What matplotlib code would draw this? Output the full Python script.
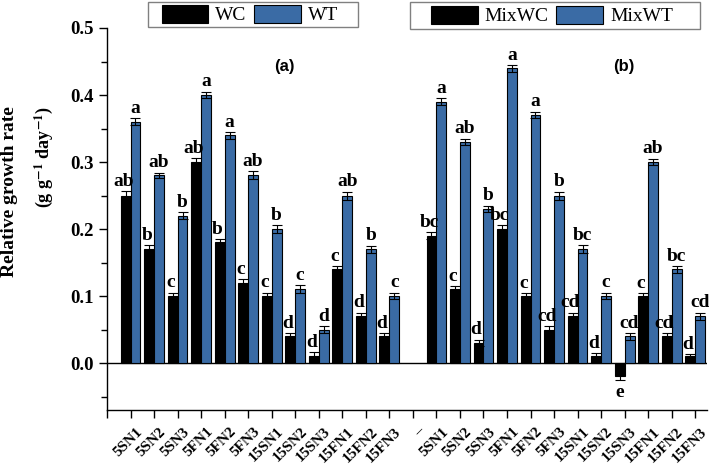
import matplotlib
matplotlib.use("Agg")
import matplotlib.pyplot as plt
import matplotlib.transforms as mtransforms
from matplotlib.patches import Rectangle
import numpy as np

# panel (a)
wc = [0.25, 0.17, 0.10, 0.30, 0.18, 0.12, 0.10, 0.04, 0.01, 0.14, 0.07, 0.04]
wt = [0.36, 0.28, 0.22, 0.40, 0.34, 0.28, 0.20, 0.11, 0.05, 0.25, 0.17, 0.10]
wc_err = [0.007, 0.006, 0.005, 0.006, 0.005, 0.005, 0.005, 0.005, 0.006, 0.005, 0.005, 0.005]
wt_err = [0.005, 0.004, 0.005, 0.005, 0.005, 0.006, 0.006, 0.006, 0.005, 0.006, 0.005, 0.005]
wc_let = ['ab', 'b', 'c', 'ab', 'b', 'c', 'c', 'd', 'd', 'c', 'd', 'd']
wt_let = ['a', 'ab', 'b', 'a', 'a', 'ab', 'b', 'c', 'd', 'ab', 'b', 'c']

# panel (b)
mwc = [0.19, 0.11, 0.03, 0.20, 0.10, 0.05, 0.07, 0.01, -0.02, 0.10, 0.04, 0.01]
mwt = [0.39, 0.33, 0.23, 0.44, 0.37, 0.25, 0.17, 0.10, 0.04, 0.30, 0.14, 0.07]
mwc_err = [0.005, 0.005, 0.005, 0.006, 0.004, 0.005, 0.005, 0.005, 0.005, 0.004, 0.005, 0.003]
mwt_err = [0.005, 0.005, 0.005, 0.005, 0.005, 0.006, 0.006, 0.005, 0.005, 0.005, 0.005, 0.005]
mwc_let = ['bc', 'c', 'd', 'bc', 'c', 'cd', 'cd', 'd', 'e', 'c', 'cd', 'd']
mwt_let = ['a', 'ab', 'b', 'a', 'a', 'b', 'bc', 'c', 'cd', 'ab', 'bc', 'cd']

treat = ['5SN1', '5SN2', '5SN3', '5FN1', '5FN2', '5FN3',
         '15SN1', '15SN2', '15SN3', '15FN1', '15FN2', '15FN3']
tick_labels = [''] + treat + ['\u2013'] + treat

BLUE = '#3a6ba5'
serif = 'Liberation Serif'
plt.rcParams['font.family'] = serif
plt.rcParams['mathtext.fontset'] = 'stix'

fig = plt.figure(figsize=(7.09, 4.68), dpi=100)
ax = fig.add_axes([107/709, 1-410/468, 600/709, 382/468])

W = 0.42
LET_FS = 14
xa = np.arange(12)
xb = np.arange(13, 25)

def draw_panel(x, black, blue, berr, uerr, blet, ulet, lab_black, lab_blue):
    hb = ax.bar(x, black, width=-W, align='edge', color='black', edgecolor='black',
                linewidth=0.8, label=lab_black, zorder=2)
    hu = ax.bar(x, blue, width=W, align='edge', color=BLUE, edgecolor='black',
                linewidth=0.8, label=lab_blue, zorder=2)
    ax.errorbar(x - W/2, black, yerr=berr, fmt='none', ecolor='black',
                elinewidth=0.8, capsize=3.5, capthick=0.8, zorder=3)
    ax.errorbar(x + W/2, blue, yerr=uerr, fmt='none', ecolor='black',
                elinewidth=0.8, capsize=3.5, capthick=0.8, zorder=3)
    for xi, v, e, t in zip(x, black, berr, blet):
        if v < 0:
            ax.text(xi - W/2, v - e - 0.006, t, ha='center', va='top',
                    fontsize=LET_FS, fontweight='bold')
        else:
            ax.text(xi - W/2 - 0.1, v + e + 0.002, t, ha='center', va='bottom',
                    fontsize=LET_FS, fontweight='bold')
    for xi, v, e, t in zip(x, blue, uerr, ulet):
        ax.text(xi + W/2, v + e + 0.002, t, ha='center', va='bottom',
                fontsize=LET_FS, fontweight='bold')
    return hb, hu

ha = draw_panel(xa, wc, wt, wc_err, wt_err, wc_let, wt_let, 'WC', 'WT')
hb = draw_panel(xb, mwc, mwt, mwc_err, mwt_err, mwc_let, mwt_let, 'MixWC', 'MixWT')

ax.axhline(0, color='black', linewidth=1.0, zorder=1)
ax.set_xlim(-1, 24.5)
ax.set_ylim(-0.07, 0.5)
ax.set_yticks(np.arange(0, 0.51, 0.1))
ax.set_yticks(np.arange(-0.05, 0.5, 0.1), minor=True)
ax.set_yticklabels(['0.0', '0.1', '0.2', '0.3', '0.4', '0.5'], fontsize=13.5, fontweight='bold')
ticks_x = np.arange(-1, 25)
ax.set_xticks(ticks_x)
ax.set_xticklabels([])
# rotated category labels, hung below and right of each tick
trans = mtransforms.blended_transform_factory(ax.transData, ax.transAxes) + \
    mtransforms.ScaledTranslation(0.05, -0.15, fig.dpi_scale_trans)
for xt, lab in zip(ticks_x, tick_labels):
    ax.text(xt, 0, lab, transform=trans, rotation=45, ha='right', va='top',
            rotation_mode='anchor', fontsize=11, fontweight='bold', clip_on=False)
ax.tick_params(axis='both', which='major', direction='out', length=6, width=1.0)
ax.tick_params(axis='y', which='minor', direction='out', length=4, width=1.0)
ax.spines['top'].set_visible(False)
ax.spines['right'].set_visible(False)
for s in ['left', 'bottom']:
    ax.spines[s].set_linewidth(1.0)

fig.text(10/709, 1-192/468, 'Relative growth rate', rotation=90, ha='center', va='center',
         fontsize=14, fontweight='bold')
fig.text(44/709, 1-157/468, r'(g g$^{\mathbf{-1}}$ day$^{\mathbf{-1}}$)', rotation=90,
         ha='center', va='center', fontsize=13, fontweight='bold')

fig.text(284/709, 1-67/468, '(a)', ha='center', va='center', fontsize=12,
         fontweight='bold', family='Liberation Sans')
fig.text(624/709, 1-66/468, '(b)', ha='center', va='center', fontsize=12,
         fontweight='bold', family='Liberation Sans')

leg_kw = dict(loc='center', ncol=2, fontsize=14, frameon=False,
              handlelength=2.4, handleheight=1.05,
              handletextpad=0.35, columnspacing=0.4, borderpad=0.1, borderaxespad=0)
boxes = [(148, 2, 358, 27), (410, 2, 700, 29)]
for hs, labs, (x0, y0, x1, y1), cx in [(ha, ['WC', 'WT'], boxes[0], 250),
                                       (hb, ['MixWC', 'MixWT'], boxes[1], 552)]:
    fig.legend(hs, labs, bbox_to_anchor=(cx/709, 1-(y0+y1)/2/468), **leg_kw)
    fig.patches.append(Rectangle((x0/709, 1-y1/468), (x1-x0)/709, (y1-y0)/468,
                                 transform=fig.transFigure, fill=False,
                                 edgecolor='#808080', linewidth=1.0))

fig.savefig('out.png', dpi=100)
